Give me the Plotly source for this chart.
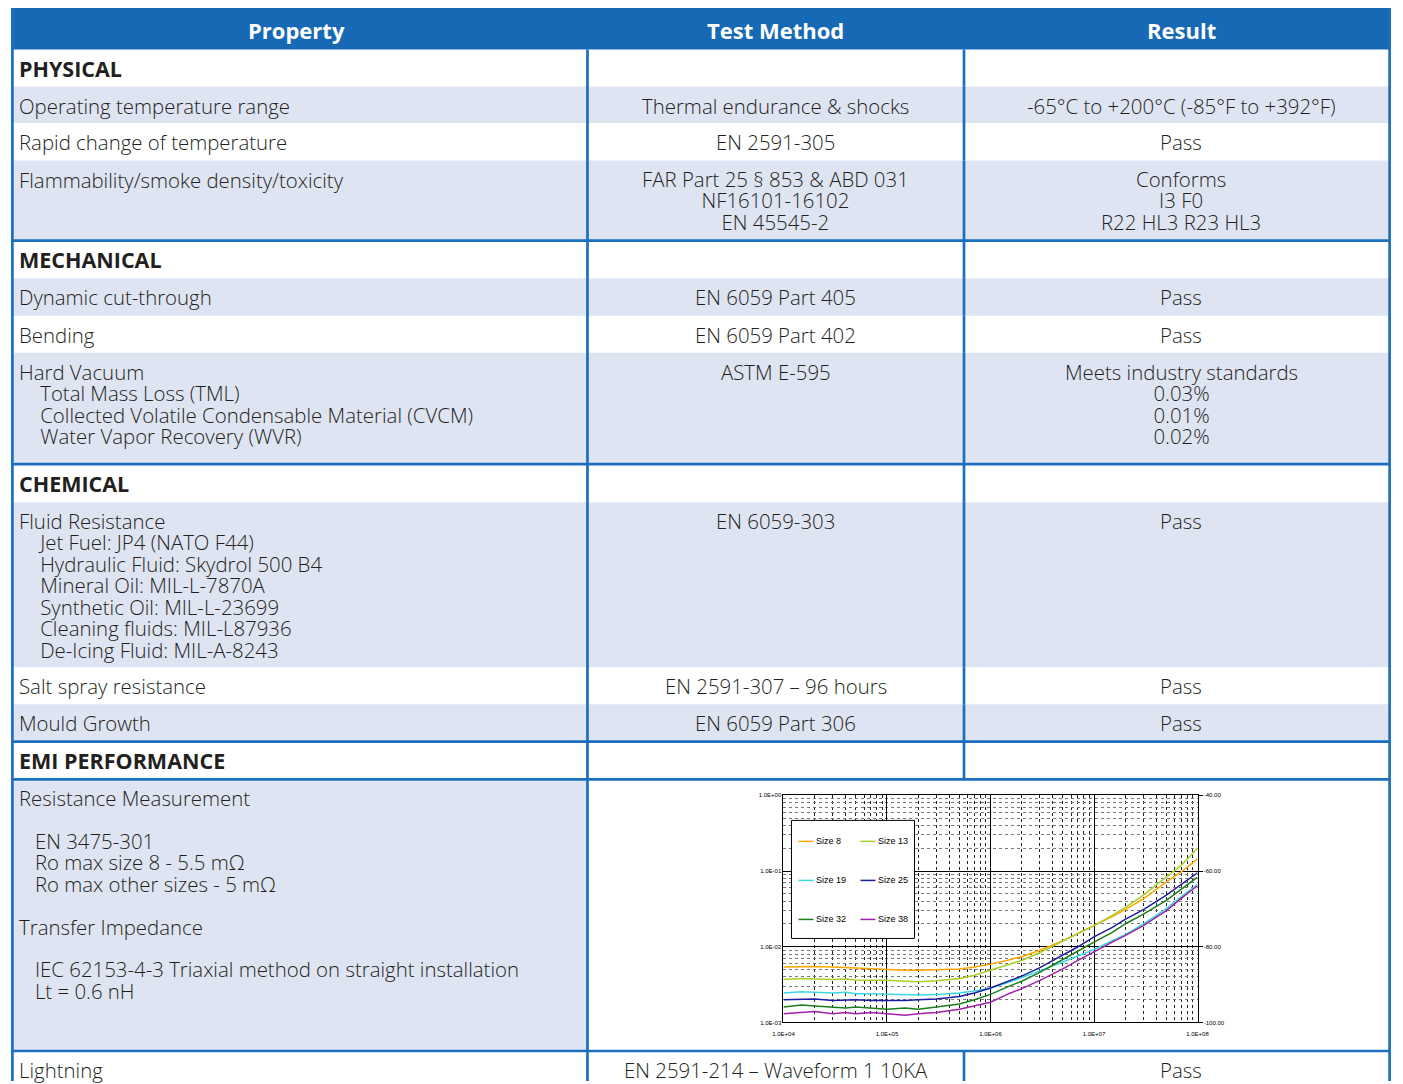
import math
import plotly.graph_objects as go

# ---------------- table data ----------------
headers = ["Property", "Test Method", "Result"]

row_kind = ["section", "row", "row", "row",
            "section", "row", "row", "row",
            "section", "row", "row", "row",
            "section", "chart", "row"]

property_text = [
    ["PHYSICAL"],
    ["Operating temperature range"],
    ["Rapid change of temperature"],
    ["Flammability/smoke density/toxicity"],
    ["MECHANICAL"],
    ["Dynamic cut-through"],
    ["Bending"],
    ["Hard Vacuum", "    Total Mass Loss (TML)",
     "    Collected Volatile Condensable Material (CVCM)",
     "    Water Vapor Recovery (WVR)"],
    ["CHEMICAL"],
    ["Fluid Resistance", "    Jet Fuel: JP4 (NATO F44)",
     "    Hydraulic Fluid: Skydrol 500 B4", "    Mineral Oil: MIL-L-7870A",
     "    Synthetic Oil: MIL-L-23699", "    Cleaning fluids: MIL-L87936",
     "    De-Icing Fluid: MIL-A-8243"],
    ["Salt spray resistance"],
    ["Mould Growth"],
    ["EMI PERFORMANCE"],
    ["Resistance Measurement", "", "   EN 3475-301",
     "   Ro max size 8 - 5.5 mΩ", "   Ro max other sizes - 5 mΩ", "",
     "Transfer Impedance", "",
     "   IEC 62153-4-3 Triaxial method on straight installation",
     "   Lt = 0.6 nH"],
    ["Lightning"],
]

method_text = [
    [], ["Thermal endurance & shocks"], ["EN 2591-305"],
    ["FAR Part 25 § 853 & ABD 031", "NF16101-16102", "EN 45545-2"],
    [], ["EN 6059 Part 405"], ["EN 6059 Part 402"], ["ASTM E-595"],
    [], ["EN 6059-303"], ["EN 2591-307 – 96 hours"], ["EN 6059 Part 306"],
    [], [], ["EN 2591-214 – Waveform 1 10KA"],
]

result_text = [
    [], ["-65°C to +200°C (-85°F to +392°F)"], ["Pass"],
    ["Conforms", "I3 F0", "R22 HL3 R23 HL3"],
    [], ["Pass"], ["Pass"],
    ["Meets industry standards", "0.03%", "0.01%", "0.02%"],
    [], ["Pass"], ["Pass"], ["Pass"],
    [], [], ["Pass"],
]

# ---------------- chart data ----------------
frequency = [1e4, 1.5e4, 2e4, 3e4, 4e4, 5e4, 7e4, 1e5, 1.5e5, 2e5, 3e5, 5e5,
             7e5, 1e6, 1.5e6, 2e6, 3e6, 5e6, 7e6, 1e7, 1.5e7, 2e7, 3e7, 5e7,
             7e7, 1e8]

size_8 = [5.4e-3, 5.5e-3, 5.5e-3, 5.4e-3, 5.3e-3, 5.3e-3, 5.1e-3, 5.0e-3,
          4.9e-3, 4.9e-3, 4.95e-3, 5.1e-3, 5.4e-3, 5.9e-3, 6.7e-3, 7.4e-3,
          9.0e-3, 1.2e-2, 1.5e-2, 1.9e-2, 2.5e-2, 3.1e-2, 4.3e-2, 7.2e-2,
          9.8e-2, 0.145]
size_13 = [3.7e-3, 3.8e-3, 3.75e-3, 3.7e-3, 3.75e-3, 3.65e-3, 3.6e-3, 3.6e-3,
           3.5e-3, 3.45e-3, 3.55e-3, 3.8e-3, 4.2e-3, 4.9e-3, 5.8e-3, 6.6e-3,
           8.4e-3, 1.2e-2, 1.5e-2, 1.9e-2, 2.6e-2, 3.3e-2, 4.8e-2, 8.2e-2,
           0.12, 0.20]
size_19 = [2.45e-3, 2.55e-3, 2.5e-3, 2.45e-3, 2.5e-3, 2.4e-3, 2.4e-3, 2.35e-3,
           2.3e-3, 2.3e-3, 2.35e-3, 2.45e-3, 2.6e-3, 2.85e-3, 3.4e-3, 3.9e-3,
           4.8e-3, 6.3e-3, 7.6e-3, 9.2e-3, 1.2e-2, 1.45e-2, 2.0e-2, 3.2e-2,
           4.6e-2, 6.7e-2]
size_25 = [2.0e-3, 2.05e-3, 2.05e-3, 1.95e-3, 2.0e-3, 2.0e-3, 1.95e-3, 1.95e-3,
           1.95e-3, 2.0e-3, 2.05e-3, 2.2e-3, 2.45e-3, 2.85e-3, 3.5e-3, 4.1e-3,
           5.3e-3, 7.8e-3, 1.0e-2, 1.35e-2, 1.8e-2, 2.3e-2, 3.1e-2, 4.8e-2,
           6.6e-2, 9.5e-2]
size_32 = [1.6e-3, 1.7e-3, 1.65e-3, 1.6e-3, 1.55e-3, 1.6e-3, 1.55e-3, 1.5e-3,
           1.55e-3, 1.5e-3, 1.6e-3, 1.75e-3, 2.0e-3, 2.35e-3, 3.0e-3, 3.5e-3,
           4.6e-3, 6.9e-3, 8.8e-3, 1.15e-2, 1.55e-2, 2.0e-2, 2.7e-2, 4.1e-2,
           5.7e-2, 8.3e-2]
size_38 = [1.3e-3, 1.35e-3, 1.4e-3, 1.3e-3, 1.35e-3, 1.3e-3, 1.35e-3, 1.3e-3,
           1.25e-3, 1.3e-3, 1.35e-3, 1.5e-3, 1.65e-3, 1.85e-3, 2.4e-3, 2.8e-3,
           3.6e-3, 5.1e-3, 6.6e-3, 8.6e-3, 1.15e-2, 1.4e-2, 1.9e-2, 3.0e-2,
           4.4e-2, 6.4e-2]

series_names = ["Size 8", "Size 13", "Size 19", "Size 25", "Size 32", "Size 38"]
series_values = [size_8, size_13, size_19, size_25, size_32, size_38]

x_tick_values = [1e4, 1e5, 1e6, 1e7, 1e8]
x_tick_labels = ["1.0E+04", "1.0E+05", "1.0E+06", "1.0E+07", "1.0E+08"]
y_tick_values = [1e-3, 1e-2, 1e-1, 1e0]
y_tick_labels = ["1.0E-03", "1.0E-02", "1.0E-01", "1.0E+00"]
db_tick_values = [-100, -80, -60, -40]
db_tick_labels = ["-100.00", "-80.00", "-60.00", "-40.00"]

# ---------------- styles / layout ----------------
W, H = 1403, 1084
# calibration of the photographed viewport (picture px = offset + scale * page px)
PIC_X0, PIC_SX = 10.6, 0.9835
PIC_Y0, PIC_SY = 3.0, 0.994
VIEW_X = [PIC_X0, PIC_X0 + PIC_SX * W]
VIEW_Y = [PIC_Y0, PIC_Y0 + PIC_SY * H]

BLUE = "#1769b5"
LINE_BLUE = "#1c6fbf"
LIGHT = "#dfe4f2"
TEXT = "#231f20"
FONT = "Open Sans"
series_colors = ["#ffa500", "#a8d026", "#3fd8e0", "#1c1c9e", "#1a7f1a", "#a020a8"]

# geometry in picture pixels
row_top = [49.5, 86.5, 123, 160.5, 240.5, 278, 315.5, 352.7,
           464, 502, 667, 704, 741.3, 779, 1050.5]
table_bottom = 1100
x_left = max(5.5, VIEW_X[0] + 1.4)
x_right = min(1397.5, VIEW_X[1] - 1.4)
x_c1, x_c2 = 587, 963.5
header_top = 8
text_x = 17
line_h = 21.3
base_size = line_h / PIC_SY / 1.3   # plotly line spacing is 1.3 em of the base font
glyph_size = 20.4
first_line = 19
space_px = 6.2

fig = go.Figure()
shapes = []
annotations = []

# header
shapes.append(dict(type="rect", xref="x", yref="y", x0=VIEW_X[0], x1=VIEW_X[1],
                   y0=header_top, y1=row_top[0], fillcolor=BLUE,
                   line=dict(width=0), layer="below"))
header_x = [(5.5 + x_c1) / 2, (x_c1 + x_c2) / 2, (x_c2 + 1397.5) / 2]
for hx, ht in zip(header_x, headers):
    annotations.append(dict(xref="x", yref="y", x=hx, y=(header_top + row_top[0]) / 2 + 1,
                            text="<b>%s</b>" % ht, showarrow=False,
                            xanchor="center", yanchor="middle",
                            font=dict(family=FONT, size=22, color="white")))


def cell_text(lines):
    out = []
    for ln in lines:
        indent = len(ln) - len(ln.lstrip(" "))
        body = "&nbsp;" * round(indent * 6 / space_px) + ln.strip()
        out.append('<span style="font-size:%.1fpx">%s</span>' % (glyph_size, body) if body else "")
    return "<br>".join(out)


bottoms = row_top[1:] + [table_bottom]
alt = 0
for i, kind in enumerate(row_kind):
    top, bot = row_top[i], bottoms[i]
    if kind == "section":
        alt = 0
        fill = "white"
    else:
        alt += 1
        fill = LIGHT if alt % 2 == 1 else "white"
    x_end = x_c1 if kind == "chart" else x_right
    if fill != "white":
        shapes.append(dict(type="rect", xref="x", yref="y", x0=x_left, x1=x_end,
                           y0=top, y1=bot, fillcolor=fill, line=dict(width=0),
                           layer="below"))
    for col, lines in enumerate([property_text[i], method_text[i], result_text[i]]):
        if not lines:
            continue
        n = len(lines)
        yc = top + first_line + (n - 1) * line_h / 2
        if col == 0:
            x, anchor = text_x, "left"
        else:
            x, anchor = header_x[col], "center"
        if kind == "section":
            annotations.append(dict(xref="x", yref="y", x=x, y=yc,
                                    text="<b>%s</b>" % lines[0], showarrow=False,
                                    xanchor=anchor, yanchor="middle",
                                    font=dict(family=FONT, size=21.5, color=TEXT)))
        else:
            annotations.append(dict(xref="x", yref="y", x=x, y=yc,
                                    text=cell_text(lines), showarrow=False,
                                    xanchor=anchor, yanchor="middle", align=anchor,
                                    font=dict(family=FONT, size=base_size, color=TEXT,
                                              weight=300)))
    if i > 0 and (kind in ("section", "chart") or row_kind[i - 1] == "chart"):
        shapes.append(dict(type="line", xref="x", yref="y", x0=x_left, x1=x_right,
                           y0=top, y1=top, line=dict(color=LINE_BLUE, width=2.7),
                           layer="above"))
    if kind != "chart":
        shapes.append(dict(type="line", xref="x", yref="y", x0=x_c2, x1=x_c2,
                           y0=top, y1=bot, line=dict(color=LINE_BLUE, width=2.7),
                           layer="above"))

for vx, y0 in [(x_left, header_top), (x_c1, row_top[0]), (x_right, header_top)]:
    shapes.append(dict(type="line", xref="x", yref="y", x0=vx, x1=vx,
                       y0=y0, y1=table_bottom, line=dict(color=LINE_BLUE, width=2.7),
                       layer="above"))

# ---------------- chart traces ----------------
for name, vals, color in zip(series_names, series_values, series_colors):
    fig.add_trace(go.Scatter(x=frequency, y=vals, name=name, mode="lines",
                             line=dict(color=color, width=1.5),
                             xaxis="x2", yaxis="y2", showlegend=False))
fig.add_trace(go.Scatter(x=frequency, y=[20 * math.log10(v) - 40 for v in size_8],
                         mode="lines", line=dict(color="rgba(0,0,0,0)", width=0),
                         xaxis="x2", yaxis="y3", showlegend=False, hoverinfo="skip"))

# legend box (drawn)
leg_x0, leg_x1, leg_y0, leg_y1 = 791, 914, 820, 938
shapes.append(dict(type="rect", xref="x", yref="y", x0=leg_x0, x1=leg_x1,
                   y0=leg_y0, y1=leg_y1, fillcolor="white",
                   line=dict(color="black", width=1), layer="above"))
leg_cols = [798, 860]
leg_rows = [841, 880, 919]
for k, (name, color) in enumerate(zip(series_names, series_colors)):
    lx = leg_cols[k % 2]
    ly = leg_rows[k // 2]
    shapes.append(dict(type="line", xref="x", yref="y", x0=lx, x1=lx + 15,
                       y0=ly, y1=ly, line=dict(color=color, width=1.5), layer="above"))
    annotations.append(dict(xref="x", yref="y", x=lx + 16, y=ly, text=name,
                            showarrow=False, xanchor="left", yanchor="middle",
                            font=dict(family="Liberation Sans", size=9, color="black")))

px0, px1, py0, py1 = 783, 1197, 795, 1022   # chart plot area in picture px


def fx(px):
    return (px - VIEW_X[0]) / (VIEW_X[1] - VIEW_X[0])


def fy(py):
    return 1 - (py - VIEW_Y[0]) / (VIEW_Y[1] - VIEW_Y[0])


tick_font = dict(family="Liberation Sans", size=6, color="black")

fig.update_layout(
    width=W, height=H,
    margin=dict(l=0, r=0, t=0, b=0),
    paper_bgcolor="white", plot_bgcolor="rgba(0,0,0,0)",
    showlegend=False,
    xaxis=dict(domain=[0, 1], range=VIEW_X, visible=False, fixedrange=True),
    yaxis=dict(domain=[0, 1], range=VIEW_Y[::-1], visible=False, fixedrange=True),
    xaxis2=dict(domain=[fx(px0), fx(px1)], anchor="y2", type="log", range=[4, 8],
                tickmode="array", tickvals=x_tick_values, ticktext=x_tick_labels,
                tickfont=tick_font, showline=True, mirror=True, linecolor="black",
                linewidth=1, showgrid=True, gridcolor="black", gridwidth=1,
                ticks="", zeroline=False, ticklabelstandoff=5,
                minor=dict(dtick="D1", showgrid=True, gridcolor="#222",
                           griddash="dot", gridwidth=1)),
    yaxis2=dict(domain=[fy(py1), fy(py0)], anchor="x2", type="log", range=[-3, 0],
                tickmode="array", tickvals=y_tick_values, ticktext=y_tick_labels,
                tickfont=tick_font, showline=True, mirror=True, linecolor="black",
                linewidth=1, showgrid=True, gridcolor="black", gridwidth=1,
                ticks="", zeroline=False,
                minor=dict(dtick="D1", showgrid=True, gridcolor="#777",
                           griddash="dot", gridwidth=1)),
    yaxis3=dict(overlaying="y2", anchor="x2", side="right", range=[-100, -40],
                tickmode="array", tickvals=db_tick_values, ticktext=db_tick_labels,
                tickfont=tick_font, showgrid=False, zeroline=False, showline=False,
                ticks="outside", ticklen=4, tickcolor="black"),
    shapes=shapes,
    annotations=annotations,
)

fig.write_html("out.html", config={"displayModeBar": False},
               post_script="document.body.style.margin='0px';")
